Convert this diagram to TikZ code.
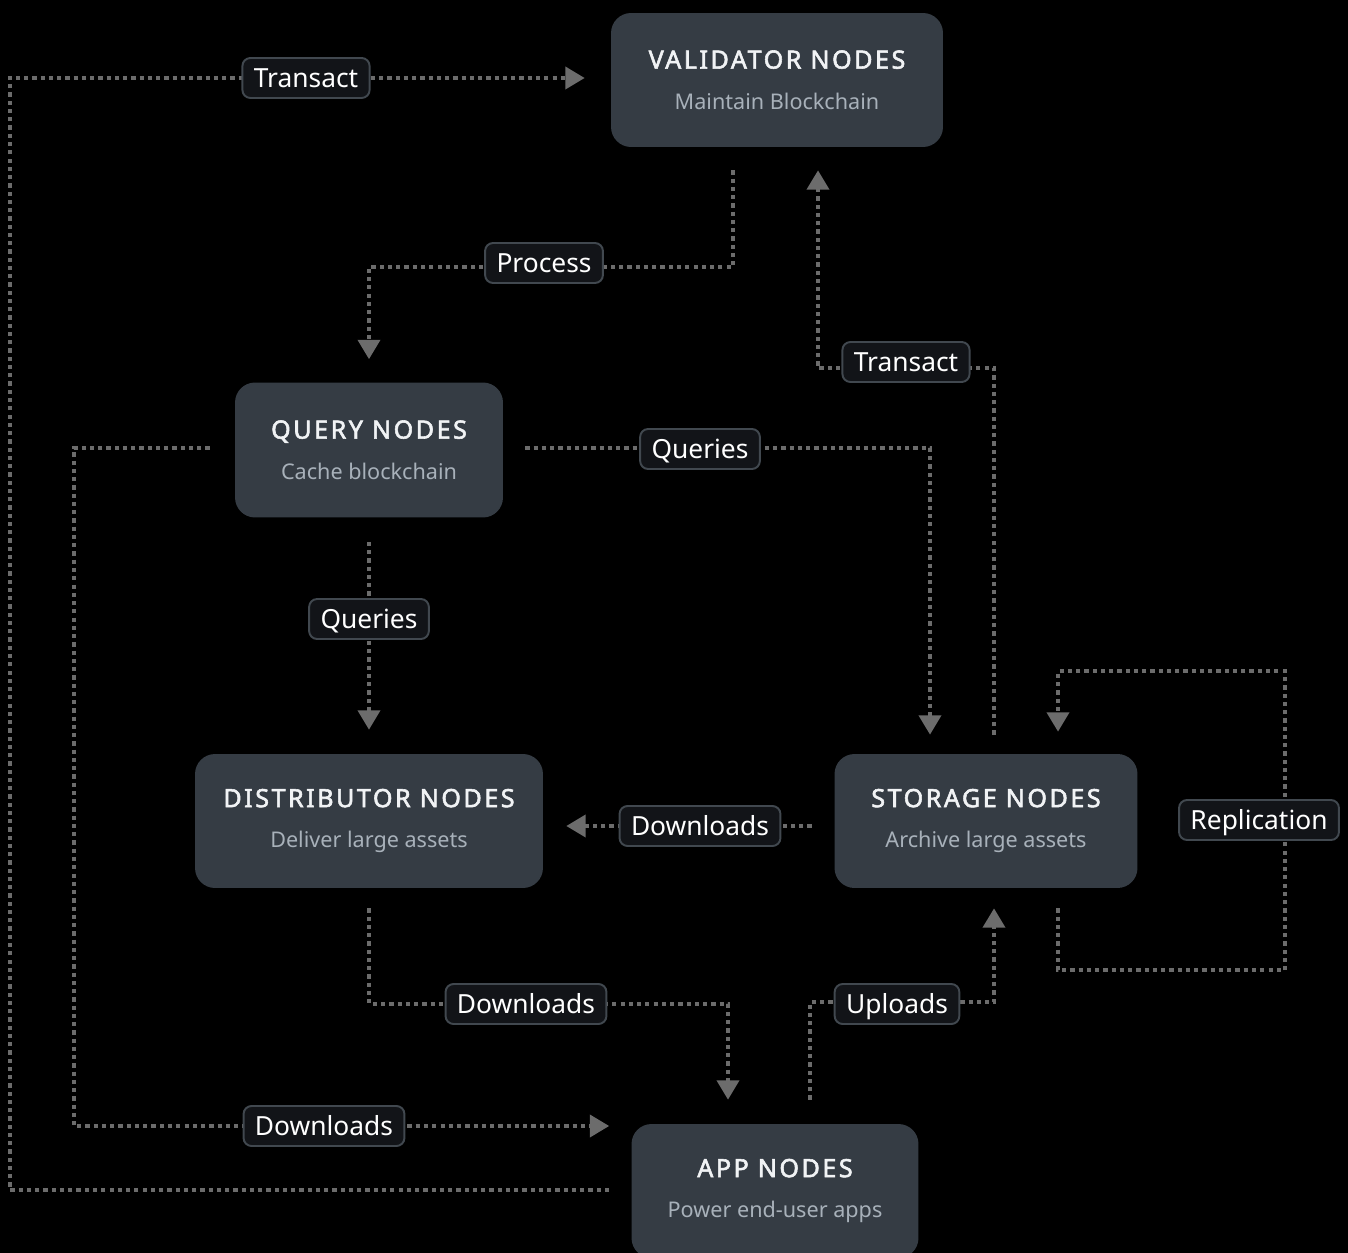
\documentclass[tikz,border=0pt]{standalone}
\usepackage{fontspec}
\setmainfont{Noto Sans}
\newfontfamily\headfont{Noto Sans}[LetterSpace=10,FakeBold=2.2]
\usetikzlibrary{arrows.meta,calc}
\definecolor{boxfill}{RGB}{53,60,68}
\definecolor{titletext}{RGB}{241,243,245}
\definecolor{subtext}{RGB}{168,177,186}
\definecolor{linkgray}{RGB}{108,108,108}
\definecolor{tagfill}{RGB}{18,20,24}
\definecolor{tagedge}{RGB}{65,72,79}
\newcommand{\heading}[1]{{\headfont\fontsize{14.3}{23.2}\selectfont\color{titletext}#1}}
\begin{document}
\begin{tikzpicture}[x=0.02cm,y=-0.02cm,
    box/.style={fill=boxfill,rectangle,rounded corners=0.4cm,align=center,text=subtext,font=\fontsize{12.3}{23.2}\selectfont},
    link/.style={draw=linkgray,line width=2.2pt,dash pattern=on 2.4pt off 2.3pt,-{Triangle[width=12.5pt,length=11pt]}},
    tag/.style={draw=tagedge,line width=1.1pt,fill=tagfill,rectangle,rounded corners=0.16cm,text=white,font=\fontsize{15}{18}\selectfont,minimum height=0.8cm,inner xsep=6.5pt,inner ysep=0pt,text height=12pt,text depth=1pt}]
    %% Background
    \fill[black] (0,0) rectangle (1348,1253);
    \useasboundingbox (0,0) rectangle (1348,1253);
    %% Nodes
    \node[box,minimum width=6.64cm,minimum height=2.68cm] (V) at (777,80) {\heading{VALIDATOR NODES}\\Maintain Blockchain};
    \node[box,minimum width=5.36cm,minimum height=2.7cm] (Q) at (369,450) {\heading{QUERY NODES}\\Cache blockchain};
    \node[box,minimum width=6.96cm,minimum height=2.68cm] (D) at (369,821) {\heading{DISTRIBUTOR NODES}\\Deliver large assets};
    \node[box,minimum width=6.06cm,minimum height=2.68cm] (S) at (986,821) {\heading{STORAGE NODES}\\Archive large assets};
    \node[box,minimum width=5.74cm,minimum height=2.68cm] (A) at (775,1191) {\heading{APP NODES}\\Power end-user apps};
    %% Links
    \draw[link,shorten <=0.44cm,shorten >=0.52cm] ($(A.west)+(0,-1)$) -| ($(V.west)+(-601,-2)$) -- ($(V.west)+(0,-2)$);
    \draw[link,shorten <=0.46cm,shorten >=0.46cm] ($(V.south)+(-44,0)$) |- ($(Q.north)+(0,-115)$) -- (Q.north);
    \draw[link,shorten <=0.38cm,shorten >=0.46cm] ($(S.north)+(8,0)$) |- ($(V.south)+(41,221)$) -- ($(V.south)+(41,0)$);
    \draw[link,shorten <=0.44cm,shorten >=0.38cm] ($(Q.east)+(0,-2)$) -| ($(S.north)+(-56,0)$);
    \draw[link,shorten <=0.48cm,shorten >=0.48cm] (Q.south) -- (D.north);
    \draw[link,shorten <=0.5cm,shorten >=0.44cm] ($(Q.west)+(0,-2)$) -- ++(-161,0) |- ($(A.west)+(0,-65)$);
    \draw[link,shorten <=0.45cm,shorten >=0.46cm] ($(S.west)+(0,5)$) -- ($(D.east)+(0,5)$);
    \draw[link,shorten <=0.4cm,shorten >=0.44cm] ($(S.south)+(72,0)$) -- ++(0,82) -| ++(227,-299) -| ($(S.north)+(72,0)$);
    \draw[link,shorten <=0.4cm,shorten >=0.48cm] (D.south) |- ($(A.north)+(-47,-120)$) -- ($(A.north)+(-47,0)$);
    \draw[link,shorten <=0.48cm,shorten >=0.4cm] ($(A.north)+(35,0)$) |- ($(S.south)+(8,114)$) -- ($(S.south)+(8,0)$);
    %% Labels
    \node[tag] (T1) at (306,78) {Transact};
    \node[tag] (P) at (544,263) {Process};
    \node[tag] (T2) at (906,362) {Transact};
    \node[tag] (Q1) at (700,449) {Queries};
    \node[tag] (Q2) at (369,619) {Queries};
    \node[tag] (D1) at (324,1126) {Downloads};
    \node[tag] (D2) at (700,826) {Downloads};
    \node[tag] (R) at (1259,820) {Replication};
    \node[tag] (D3) at (526,1004) {Downloads};
    \node[tag] (U) at (897,1004) {Uploads};
\end{tikzpicture}
\end{document}
